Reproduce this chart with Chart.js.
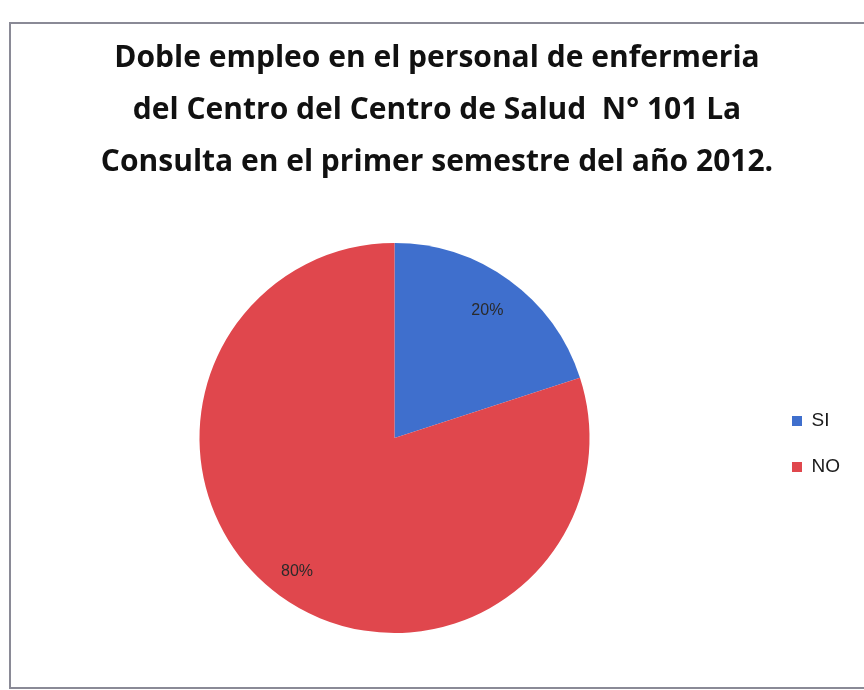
<!DOCTYPE html>
<html>
<head>
<meta charset="utf-8">
<script src="https://cdn.jsdelivr.net/npm/chart.js@4"></script>
<style>
  html, body { margin: 0; padding: 0; background: #fff; }
  #wrap { position: relative; width: 864px; height: 690px; overflow: hidden; }
  #frame { position: absolute; left: 9px; top: 22px; width: 880px; height: 667px; border: 2px solid #8a8a96; box-sizing: border-box; }
  canvas { position: absolute; left: 0; top: 0; }
</style>
</head>
<body>
<div id="wrap">
  <div id="frame"></div>
  <canvas id="pie" width="864" height="690"></canvas>
</div>
<script>
// Chart values
const categories = ['SI', 'NO'];
const percentages = [20, 80];
const sliceColors = ['#3f6fcd', '#e0474d'];
const titleLines = [
    'Doble empleo en el personal de enfermeria',
    'del Centro del Centro de Salud  N° 101 La',
    'Consulta en el primer semestre del año 2012.'
];

// Percentage label inside each slice
const sliceLabels = {
    id: 'sliceLabels',
    afterDatasetsDraw: function (chart) {
        const ctx = chart.ctx;
        const meta = chart.getDatasetMeta(0);
        ctx.save();
        ctx.font = '16px "Liberation Sans", "DejaVu Sans", sans-serif';
        ctx.fillStyle = '#2a2a2a';
        ctx.textAlign = 'center';
        ctx.textBaseline = 'middle';
        meta.data.forEach(function (arc, i) {
            const p = arc.getProps(['x', 'y', 'startAngle', 'endAngle', 'outerRadius'], true);
            const mid = (p.startAngle + p.endAngle) / 2;
            const r = p.outerRadius * (i === 0 ? 0.81 : 0.85);
            ctx.fillText(percentages[i] + '%', p.x + Math.cos(mid) * r, p.y + Math.sin(mid) * r);
        });
        ctx.restore();
    }
};

const ctx = document.getElementById('pie').getContext('2d');
const chart = new Chart(ctx, {
    type: 'pie',
    data: {
        labels: categories,
        datasets: [{
            data: percentages,
            backgroundColor: sliceColors,
            borderWidth: 0
        }]
    },
    options: {
        responsive: false,
        animation: false,
        layout: {
            padding: { top: 32, bottom: 57, left: 24, right: 14 }
        },
        plugins: {
            title: {
                display: true,
                text: titleLines,
                color: '#111',
                font: { family: '"Open Sans", Lato, sans-serif', size: 30, weight: 'bold', lineHeight: 1.733 },
                padding: { top: 0, bottom: 55 }
            },
            legend: {
                position: 'right',
                fullSize: false,
                // empty legend title only nudges the items down a little
                title: { display: true, text: ' ', font: { size: 10 }, padding: 0 },
                labels: {
                    boxWidth: 10,
                    boxHeight: 10,
                    padding: 27,
                    color: '#1a1a1a',
                    font: { family: '"Liberation Sans", "DejaVu Sans", sans-serif', size: 19 }
                }
            },
            tooltip: { enabled: false }
        }
    },
    plugins: [sliceLabels]
});
</script>
</body>
</html>
